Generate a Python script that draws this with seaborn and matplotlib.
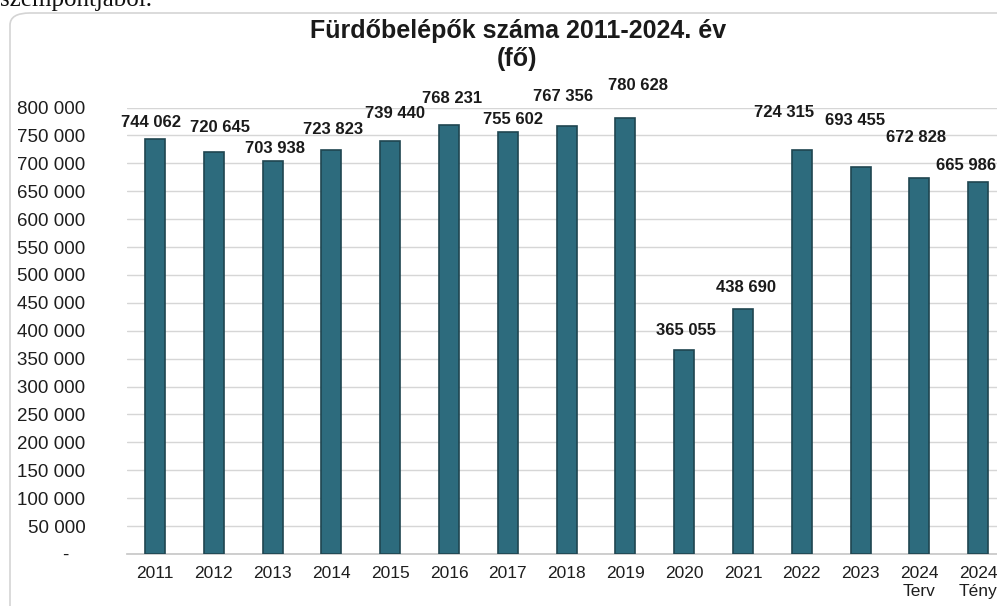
import matplotlib
matplotlib.use("Agg")
import matplotlib.pyplot as plt
import seaborn as sns
import pandas as pd
from matplotlib.patches import FancyBboxPatch

# Fürdőbelépők száma (fő), 2011-2024
years = ["2011", "2012", "2013", "2014", "2015", "2016", "2017", "2018",
         "2019", "2020", "2021", "2022", "2023", "2024\nTerv", "2024\nTény"]
visitors = [744062, 720645, 703938, 723823, 739440, 768231, 755602, 767356,
            780628, 365055, 438690, 724315, 693455, 672828, 665986]
label_text = ["744 062", "720 645", "703 938", "723 823", "739 440", "768 231",
              "755 602", "767 356", "780 628", "365 055", "438 690", "724 315",
              "693 455", "672 828", "665 986"]
y_ticks = list(range(0, 800001, 50000))

# manual nudges of the data labels (pixels, like the excel original)
label_nudge = [(-4, 16), (6, 24), (2, 13), (2, 21), (5, 28), (3, 27), (5, 13),
               (-4, 29), (13, 33), (2, 20), (3, 22), (-18, 37), (-6, 46),
               (-3, 41), (-12, 17)]

df = pd.DataFrame({"year": years, "visitors": visitors})

sns.set_theme(style="white")
plt.rcParams["font.family"] = ["Liberation Sans", "DejaVu Sans"]

fig = plt.figure(figsize=(9.97, 6.06), dpi=100)
ax = fig.add_axes([127 / 997, 1 - 554 / 606, 1 - 127 / 997, (554 - 107.5) / 606])

# frame of the embedded chart
frame = FancyBboxPatch((10 / 997, -0.05), 1.2, 1 - 13 / 606 + 0.05,
                       boxstyle="round,pad=0,rounding_size=0.02",
                       transform=fig.transFigure, facecolor="white",
                       edgecolor="#d4d4d4", linewidth=1.2, zorder=-5)
fig.patches.append(frame)

for y in y_ticks:
    ax.axhline(y, color="#d6d6d6", linewidth=1, zorder=0)

sns.barplot(data=df, x="year", y="visitors", order=years, color="#2d6b7d",
            width=0.34, saturation=1, edgecolor="#1f4550", linewidth=1.2,
            ax=ax, zorder=3)

for i, v in enumerate(visitors):
    dx, dy = label_nudge[i]
    ax.annotate(label_text[i], (i, v), xytext=(dx * 0.72, dy * 0.72),
                textcoords="offset points", ha="center", va="center",
                fontsize=12, fontweight="bold", color="#1a1a1a",
                annotation_clip=False)

ax.set_xlim(-0.476, 14.32)
ax.set_ylim(0, 800000)
ax.set_yticks(y_ticks)
ax.set_yticklabels(["-   "] + [f"{v:,}".replace(",", " ") for v in y_ticks[1:]])
ax.tick_params(axis="y", length=0, pad=30, labelsize=13.5, labelcolor="#1e1e1e")
ax.tick_params(axis="x", length=0, pad=9, labelsize=12.5, labelcolor="#1e1e1e")
ax.set_xlabel("")
ax.set_ylabel("")
for s in ["left", "right", "top"]:
    ax.spines[s].set_visible(False)
ax.spines["bottom"].set_color("#c8c8c8")
ax.patch.set_alpha(0)

fig.text(518 / 997, 1 - 31 / 606, "Fürdőbelépők száma 2011-2024. év",
         ha="center", va="center", fontsize=18, fontweight="bold",
         color="#1a1a1a")
fig.text(517 / 997, 1 - 59 / 606, "(fő)", ha="center", va="center",
         fontsize=18, fontweight="bold", color="#1a1a1a")

# cut-off line of the surrounding document text
fig.text(0.0, 1 - 6 / 606, "szempontjából.", ha="left", va="baseline",
         fontsize=18, family="Liberation Serif", color="#111111")

fig.savefig("out.png", dpi=100, facecolor="white")
